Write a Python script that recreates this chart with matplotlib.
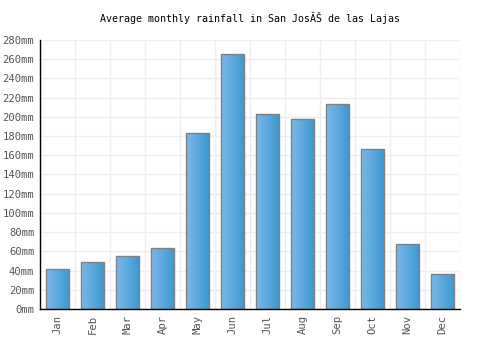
import matplotlib
matplotlib.use("Agg")
import matplotlib.pyplot as plt
import numpy as np
from matplotlib.colors import LinearSegmentedColormap

months = ["Jan", "Feb", "Mar", "Apr", "May", "Jun", "Jul", "Aug", "Sep", "Oct", "Nov", "Dec"]
rainfall = [42, 49, 55, 64, 183, 265, 203, 198, 213, 167, 68, 36]
yticks = list(range(0, 281, 20))
ytick_labels = [f"{v}mm" for v in yticks]
title = "Average monthly rainfall in San JosÃŠ de las Lajas"

plt.rcParams['font.family'] = ['DejaVu Sans Mono']

fig = plt.figure(figsize=(5, 3.5), dpi=100)
ax = fig.add_axes([0.08, 0.117, 0.84, 0.769])

x = np.arange(len(months))
bars = ax.bar(x, rainfall, width=0.67, color="none", edgecolor="#808080", linewidth=1.0, zorder=3)

cmap = LinearSegmentedColormap.from_list("g", ["#7cb8ea", "#3a98d0"])
grad = np.linspace(0, 1, 64).reshape(1, -1)
for b in bars:
    x0, y0 = b.get_x(), b.get_y()
    w, h = b.get_width(), b.get_height()
    im = ax.imshow(grad, cmap=cmap, aspect="auto", extent=(x0, x0 + w, y0, y0 + h), zorder=2)
    im.set_clip_path(b)

ax.set_xlim(-0.5, len(months) - 0.5)
ax.set_ylim(0, 280)
ax.set_yticks(yticks)
ax.set_yticklabels(ytick_labels, fontsize=7.6, color="#555555")
ax.set_xticks(x)
ax.set_xticklabels(months, rotation=90, fontsize=7.6, color="#555555")
ax.set_xticks(np.arange(-0.5, len(months), 1), minor=True)
ax.tick_params(axis="both", which="both", length=0, pad=4)
ax.grid(True, axis="y", which="major", color="#eeeeee", linewidth=1, zorder=0)
ax.grid(True, axis="x", which="minor", color="#eeeeee", linewidth=1, zorder=0)
ax.grid(False, axis="x", which="major")
for s in ["top", "right"]:
    ax.spines[s].set_visible(False)
for s in ["left", "bottom"]:
    ax.spines[s].set_color("black")
    ax.spines[s].set_linewidth(1.0)
    ax.spines[s].set_zorder(4)

fig.text(0.5, 0.948, title, ha="center", va="center", fontsize=7.2, color="black")

fig.savefig("out.png", dpi=100)
